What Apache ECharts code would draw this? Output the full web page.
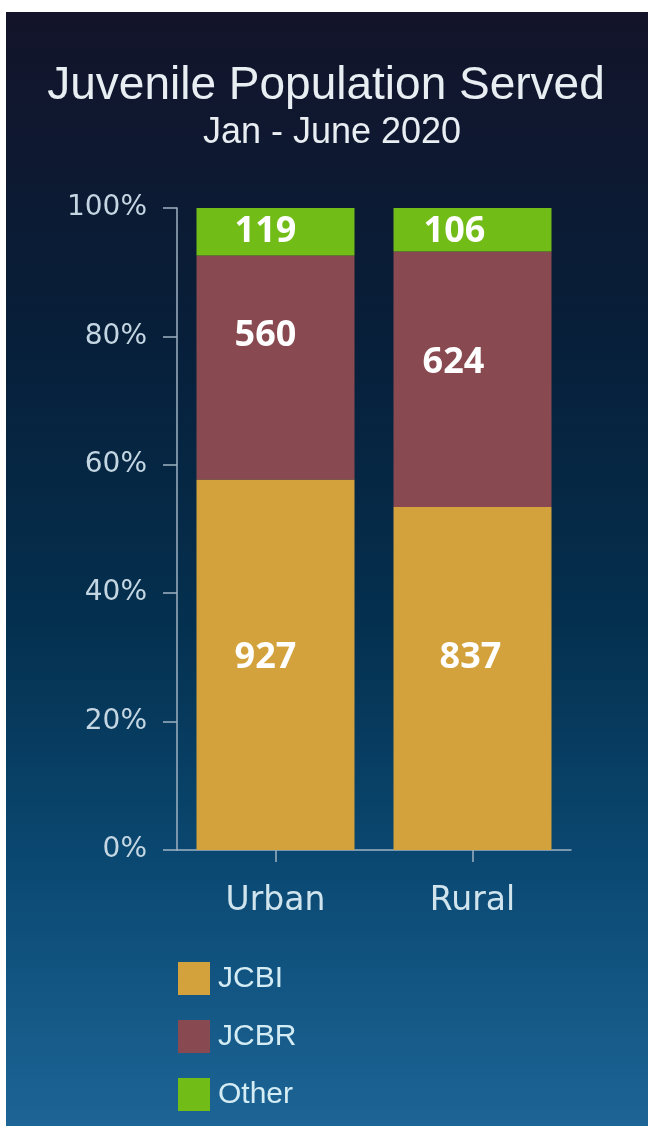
<!DOCTYPE html>
<html>
<head>
<meta charset="utf-8">
<script src="https://cdn.jsdelivr.net/npm/echarts@6/dist/echarts.min.js"></script>
<style>
html,body{margin:0;padding:0;background:#ffffff;}
#chart{width:652px;height:1134px;}
</style>
</head>
<body>
<div id="chart"></div>
<script>
// ---- data ----
var categories = ['Urban', 'Rural'];
var seriesNames = ['JCBI', 'JCBR', 'Other'];
var jcbiCounts = [927, 837];
var jcbrCounts = [560, 624];
var otherCounts = [119, 106];
var yTicks = [0, 20, 40, 60, 80, 100];

// ---- layout (label nudges, not data) ----
var labelOffsets = {
  JCBI:  [[-10, -7], [-2, -21]],
  JCBR:  [[-10, -32], [-19, -17]],
  Other: [[-10, 0], [-18, 2]]
};
var colors = { JCBI: '#d4a23c', JCBR: '#884a50', Other: '#72bc18' };

var countsByName = { JCBI: jcbiCounts, JCBR: jcbrCounts, Other: otherCounts };
var totals = categories.map(function (c, i) {
  return jcbiCounts[i] + jcbrCounts[i] + otherCounts[i];
});

var chart = echarts.init(document.getElementById('chart'), null, { renderer: 'canvas' });

var series = seriesNames.map(function (name) {
  var counts = countsByName[name];
  return {
    name: name,
    type: 'bar',
    stack: 'total',
    barWidth: 158,
    itemStyle: { color: colors[name] },
    emphasis: { disabled: true },
    data: counts.map(function (v, i) {
      return {
        value: v / totals[i] * 100,
        count: v,
        label: { offset: labelOffsets[name][i] }
      };
    }),
    label: {
      show: true,
      position: 'inside',
      color: '#ffffff',
      fontFamily: 'Open Sans',
      fontWeight: 'bold',
      fontSize: 36,
      formatter: function (p) { return p.data.count; }
    }
  };
});

var option = {
  animation: false,
  backgroundColor: 'transparent',
  graphic: [{
    type: 'rect',
    z: -100,
    silent: true,
    shape: { x: 6, y: 12, width: 642, height: 1114 },
    style: {
      fill: new echarts.graphic.LinearGradient(0, 0, 0, 1, [
        { offset: 0, color: '#13142a' },
        { offset: 0.3, color: '#071f3a' },
        { offset: 0.55, color: '#04304f' },
        { offset: 0.78, color: '#0b4a74' },
        { offset: 1, color: '#1d6596' }
      ])
    }
  }],
  title: [{
    text: 'Juvenile Population Served',
    left: 321, top: 58, textAlign: 'center',
    textStyle: { fontFamily: 'Liberation Sans', fontWeight: 'normal', fontSize: 46, color: '#e8eef2' }
  }, {
    text: 'Jan - June 2020',
    left: 327, top: 110, textAlign: 'center',
    textStyle: { fontFamily: 'Liberation Sans', fontWeight: 'normal', fontSize: 36, color: '#e8eef2' }
  }],
  legend: {
    orient: 'vertical',
    left: 178, top: 962,
    padding: 0,
    itemWidth: 32, itemHeight: 33, itemGap: 25,
    icon: 'rect',
    data: seriesNames,
    selectedMode: false,
    textStyle: { fontFamily: 'Liberation Sans', fontSize: 30, color: '#d4ecf4', padding: [0, 0, 0, 3] }
  },
  grid: { left: 177, right: 81, top: 208, bottom: 284, containLabel: false },
  xAxis: {
    type: 'category',
    data: categories,
    axisLine: { show: true, lineStyle: { color: '#9fb2c2', width: 1.5 } },
    axisTick: { show: true, alignWithLabel: true, length: 12, lineStyle: { color: '#9fb2c2', width: 1.5 } },
    axisLabel: { margin: 35, fontFamily: 'DejaVu Sans', fontSize: 33, color: '#d0e4ee' }
  },
  yAxis: {
    type: 'value',
    min: yTicks[0], max: yTicks[yTicks.length - 1], interval: 20,
    splitLine: { show: false },
    axisLine: { show: true, lineStyle: { color: '#9fb2c2', width: 1.5 } },
    axisTick: { show: true, length: 14, lineStyle: { color: '#9fb2c2', width: 1.5 } },
    axisLabel: { margin: 30, fontFamily: 'DejaVu Sans', fontSize: 28, color: '#c4d6e2', formatter: '{value}%' }
  },
  series: series
};
chart.setOption(option);
</script>
</body>
</html>
